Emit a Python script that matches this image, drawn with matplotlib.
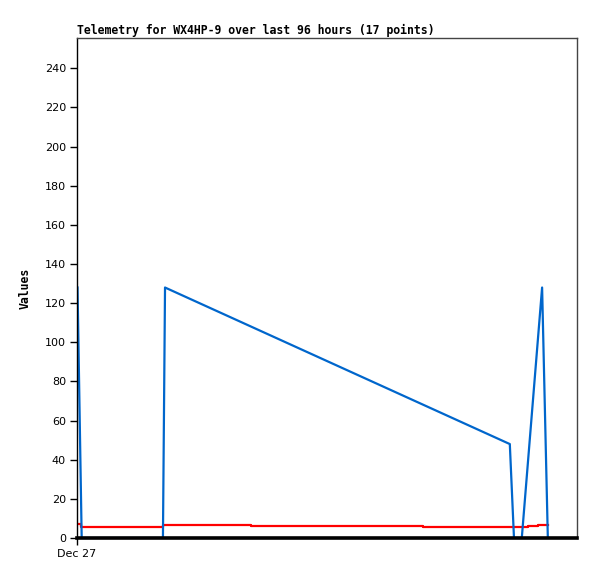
import matplotlib
matplotlib.use('Agg')
import matplotlib.pyplot as plt

# hours since Dec 27 00:00 (x axis spans 96 hours)
blue_hours = [0.1, 0.9, 16.5, 16.9, 83.1, 83.9, 85.4, 89.3, 90.4]
blue_values = [128, 0, 0, 128, 48, 0, 0, 128, 0]

red_hours = [0.0, 0.8, 16.6, 33.4, 66.4, 86.6, 88.5, 90.4]
red_values = [7, 5.8, 6.8, 6.3, 5.8, 6.3, 6.8, 6.8]

y_ticks = list(range(0, 260, 20))
x_tick_labels = ['Dec 27']
x_ticks = [0]

fig = plt.figure(figsize=(5.97, 5.79), dpi=100)
ax = fig.add_axes([77 / 597, 1 - 538 / 579, 500 / 597, 500 / 579])

ax.plot(red_hours, red_values, color='#ff0000', lw=1.6, drawstyle='steps-post', zorder=1)
ax.plot(blue_hours, blue_values, color='#0066cc', lw=1.6, zorder=2)
# zero line drawn over the series, as in the original
ax.axhline(0, color='black', lw=2.6, zorder=6, clip_on=False)

ax.set_xlim(0, 96)
ax.set_ylim(0, 255.5)
ax.set_yticks(y_ticks)
ax.set_xticks(x_ticks)
ax.set_xticklabels(x_tick_labels)
ax.tick_params(axis='both', direction='out', length=5, width=1, labelsize=8,
               color='black', pad=3)

for side in ['top', 'right']:
    ax.spines[side].set_color('#444444')
    ax.spines[side].set_linewidth(1)
ax.spines['left'].set_color('black')
ax.spines['left'].set_linewidth(1)
ax.spines['bottom'].set_visible(False)

ax.set_title('Telemetry for WX4HP-9 over last 96 hours (17 points)', loc='left',
             fontfamily='DejaVu Sans Mono', fontweight='bold', fontsize=8.3, pad=3)
ax.set_ylabel('Values', fontfamily='DejaVu Sans Mono', fontweight='bold', fontsize=8.3, labelpad=9)

fig.savefig('out.png', dpi=100)
